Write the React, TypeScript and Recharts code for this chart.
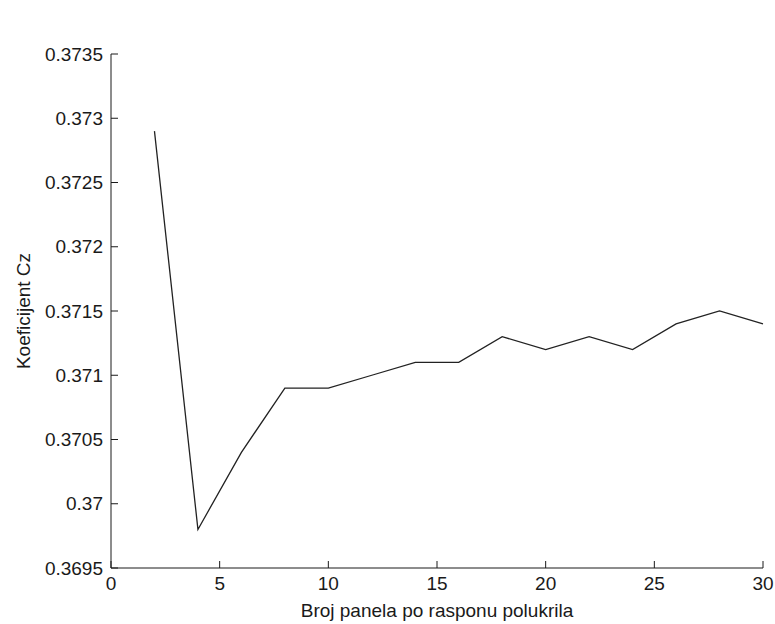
import React from 'react';
import { LineChart, Line, XAxis, YAxis } from 'recharts';

// Broj panela (x) and koeficijent Cz (y)
const panels = [2, 4, 6, 8, 10, 12, 14, 16, 18, 20, 22, 24, 26, 28, 30];
const czValues = [
  0.3729, 0.3698, 0.3704, 0.3709, 0.3709, 0.371, 0.3711, 0.3711,
  0.3713, 0.3712, 0.3713, 0.3712, 0.3714, 0.3715, 0.3714,
];
const xTicks = [0, 5, 10, 15, 20, 25, 30];
const yTicks = [0.3695, 0.37, 0.3705, 0.371, 0.3715, 0.372, 0.3725, 0.373, 0.3735];

const xLabel = 'Broj panela po rasponu polukrila';
const yLabel = 'Koeficijent Cz';

const chartData = panels.map((n, i) => ({ n, cz: czValues[i] }));

const FONT = '"Liberation Sans", Arial, sans-serif';
const INK = '#1a1a1a';

// trims trailing zeros the way MATLAB prints tick labels
const fmt = (v: number) => String(Number(v.toFixed(4)));

const YAxisTitle = (props: any) => {
  const vb = props.viewBox || {};
  const cy = vb.height ? vb.y + vb.height / 2 : 311;
  const cx = 30;
  return (
    <text
      x={cx}
      y={cy}
      transform={`rotate(-90, ${cx}, ${cy})`}
      textAnchor="middle"
      fill={INK}
      fontSize={19}
      fontFamily={FONT}
    >
      {yLabel}
    </text>
  );
};

export default function App() {
  return (
    <div style={{ position: 'absolute', left: 0, top: 0, width: 775, height: 624, background: '#fff' }}>
      <LineChart
        width={775}
        height={624}
        data={chartData}
        margin={{ top: 54, right: 12, left: 0, bottom: 0 }}
        style={{ fontFamily: FONT }}
      >
        <XAxis
          dataKey="n"
          type="number"
          domain={[0, 30]}
          ticks={xTicks}
          height={56}
          stroke={INK}
          tickSize={-7}
          tickMargin={16}
          tick={{ fill: INK, fontSize: 19, fontFamily: FONT }}
          axisLine={{ stroke: INK, strokeWidth: 1 }}
          tickLine={{ stroke: INK }}
          label={{ value: xLabel, position: 'insideBottom', offset: 7, fill: INK, fontSize: 19, fontFamily: FONT }}
        />
        <YAxis
          type="number"
          domain={[0.3695, 0.3735]}
          ticks={yTicks}
          allowDataOverflow
          width={111}
          stroke={INK}
          tickSize={-7}
          tickMargin={15}
          tickFormatter={fmt}
          tick={{ fill: INK, fontSize: 19, fontFamily: FONT }}
          axisLine={{ stroke: INK, strokeWidth: 1 }}
          tickLine={{ stroke: INK }}
          label={<YAxisTitle />}
        />
        <Line
          dataKey="cz"
          type="linear"
          stroke="#222"
          strokeWidth={1.3}
          dot={false}
          isAnimationActive={false}
        />
      </LineChart>
    </div>
  );
}
